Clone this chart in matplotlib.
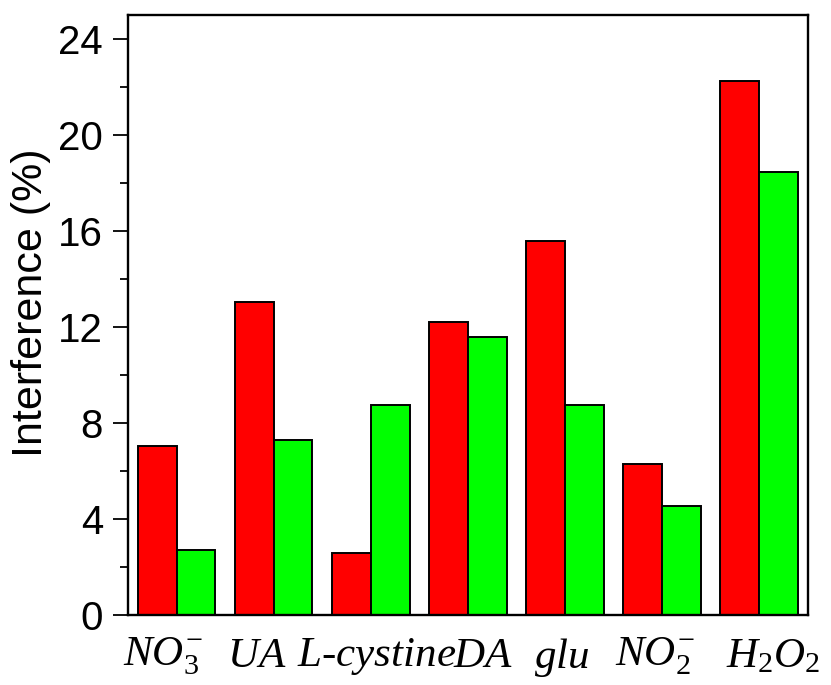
import matplotlib
matplotlib.use('Agg')
import matplotlib.pyplot as plt
import numpy as np

# data
categories = [r'$NO_3^{-}$', r'$UA$', r'$L\text{-}cystine$', r'$DA$', r'$glu$', r'$NO_2^{-}$', r'$H_2O_2$']
red_vals = [7.05, 13.05, 2.6, 12.2, 15.6, 6.3, 22.25]
green_vals = [2.7, 7.3, 8.75, 11.6, 8.75, 4.55, 18.45]
yticks = [0, 4, 8, 12, 16, 20, 24]
# labels in the reference sit a bit off the group centres
label_shift = [-0.14, -0.17, 0.06, 0.16, -0.03, -0.07, 0.14]

plt.rcParams['mathtext.fontset'] = 'custom'
plt.rcParams['mathtext.it'] = 'Liberation Serif:italic'
plt.rcParams['mathtext.rm'] = 'Liberation Serif'
plt.rcParams['font.family'] = ['Liberation Sans', 'DejaVu Sans']

fig = plt.figure(figsize=(8.31, 6.85), dpi=100)
ax = fig.add_axes([0.154, 0.102, 0.818, 0.876])

x = np.arange(len(categories))
w = 0.4
ax.bar(x - w / 2, red_vals, width=w, color='#ff0000', edgecolor='black', linewidth=1.4)
ax.bar(x + w / 2, green_vals, width=w, color='#00ff00', edgecolor='black', linewidth=1.4)

ax.set_xlim(-0.5, len(categories) - 0.5)
ax.set_ylim(0, 25)
ax.set_yticks(yticks)
ax.set_yticks(np.arange(2, 25, 4), minor=True)
ax.set_xticks(x + np.array(label_shift))
ax.set_xticklabels(categories, fontsize=31)

ax.tick_params(axis='y', which='major', direction='out', length=11, width=1.3,
               labelsize=29, pad=7)
ax.tick_params(axis='y', which='minor', direction='out', length=6, width=1.3)
ax.tick_params(axis='x', length=0, pad=15)

for s in ax.spines.values():
    s.set_linewidth(1.7)

ax.set_ylabel('Interference (%)', fontsize=31)
ax.yaxis.set_label_coords(-0.113, 0.52)

fig.savefig('out.png', dpi=100)
